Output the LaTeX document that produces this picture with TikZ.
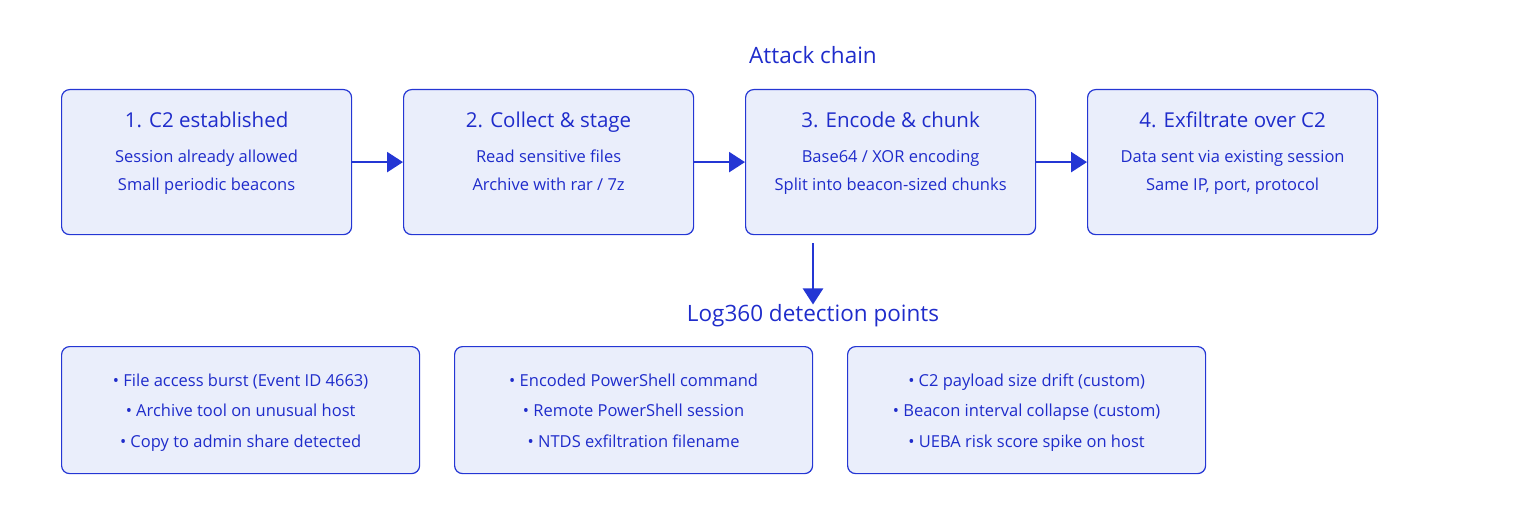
\documentclass[tikz,border=0pt]{standalone}
\usepackage{fontspec}
\setmainfont{Open Sans}
\usetikzlibrary{arrows.meta}
\usetikzlibrary{positioning}
\definecolor{ink}{HTML}{1F2CCB}
\definecolor{boxfill}{HTML}{EAEEFB}
\definecolor{boxline}{HTML}{2436D4}
\tikzset{
    stagebox/.style={draw=boxline,fill=boxfill,rounded corners=8pt,line width=1.2pt,
        minimum width=290pt,minimum height=145pt,anchor=north west},
    detect/.style={stagebox,minimum width=358pt,minimum height=127pt},
    txt/.style={text=ink,font=\fontsize{16.5}{16}\selectfont,text height=12pt,text depth=4pt},
    head/.style={text=ink,font=\fontsize{20.5}{20}\selectfont,text height=15pt,text depth=5pt},
    flow/.style={draw=boxline,line width=2.5pt,-{Triangle[length=16pt,width=20pt]}}
}
\begin{document}
\begin{tikzpicture}[x=1pt,y=-1pt]
    \useasboundingbox (0,0) rectangle (1522,508);
    \node[head,font=\fontsize{22.5}{22}\selectfont] (chain) at (813,59) {Attack chain};
    % steps
    \node[stagebox] (s1) at (61,89) {};
    \node[stagebox] (s2) at (403,89) {};
    \node[stagebox] (s3) at (745,89) {};
    \node[stagebox] (s4) at (1087,89) {};
    \node[head] at ([yshift=-34pt]s1.north) {1. C2 established};
    \node[txt] at ([yshift=-69pt]s1.north) {Session already allowed};
    \node[txt] at ([yshift=-97pt]s1.north) {Small periodic beacons};
    \node[head] at ([yshift=-34pt]s2.north) {2. Collect \& stage};
    \node[txt] at ([yshift=-69pt]s2.north) {Read sensitive files};
    \node[txt] at ([yshift=-97pt]s2.north) {Archive with rar / 7z};
    \node[head] at ([yshift=-34pt]s3.north) {3. Encode \& chunk};
    \node[txt] at ([yshift=-69pt]s3.north) {Base64 / XOR encoding};
    \node[txt] at ([yshift=-97pt]s3.north) {Split into beacon-sized chunks};
    \node[head] at ([yshift=-34pt]s4.north) {4. Exfiltrate over C2};
    \node[txt] at ([yshift=-69pt]s4.north) {Data sent via existing session};
    \node[txt] at ([yshift=-97pt]s4.north) {Same IP, port, protocol};
    \draw[flow] (s1.east) -- (s2.west);
    \draw[flow] (s2.east) -- (s3.west);
    \draw[flow] (s3.east) -- (s4.west);
    % detection
    \coordinate (top) at (813,243);
    \node[head,font=\fontsize{22.5}{22}\selectfont] (log) at (813,316) {Log360 detection points};
    \draw[flow] (top) -- ([yshift=-2pt]log.north);
    \node[detect] (d1) at (61,346) {};
    \node[detect] (d2) at (454,346) {};
    \node[detect] (d3) at (847,346) {};
    \node[txt] at ([yshift=-36pt]d1.north) {• File access burst (Event ID 4663)};
    \node[txt] at ([yshift=-66pt]d1.north) {• Archive tool on unusual host};
    \node[txt] at ([yshift=-97pt]d1.north) {• Copy to admin share detected};
    \node[txt] at ([yshift=-36pt]d2.north) {• Encoded PowerShell command};
    \node[txt] at ([yshift=-66pt]d2.north) {• Remote PowerShell session};
    \node[txt] at ([yshift=-97pt]d2.north) {• NTDS exfiltration filename};
    \node[txt] at ([yshift=-36pt]d3.north) {• C2 payload size drift (custom)};
    \node[txt] at ([yshift=-66pt]d3.north) {• Beacon interval collapse (custom)};
    \node[txt] at ([yshift=-97pt]d3.north) {• UEBA risk score spike on host};
\end{tikzpicture}
\end{document}
